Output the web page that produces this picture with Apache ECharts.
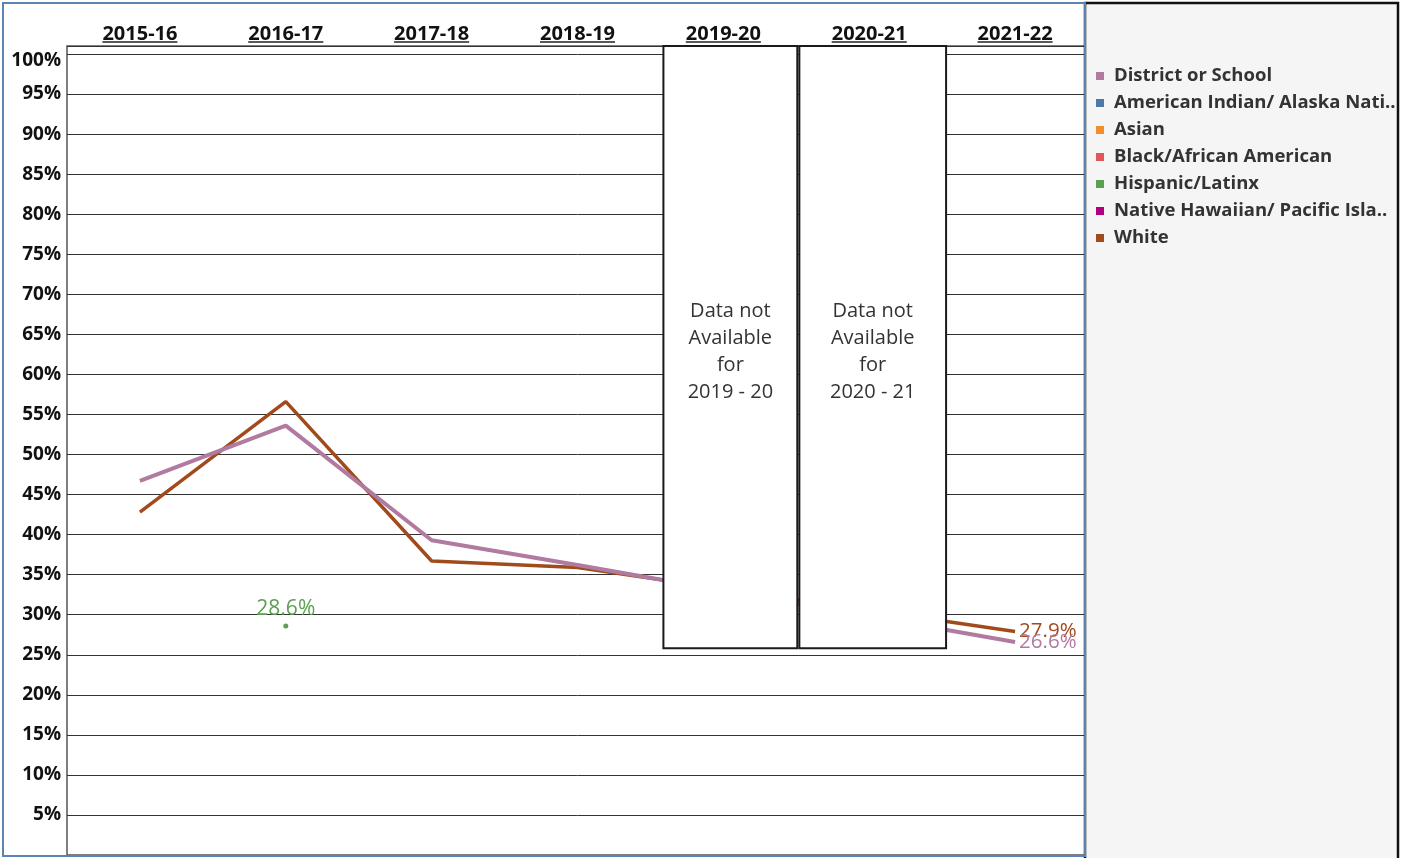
<!DOCTYPE html>
<html>
<head>
<meta charset="utf-8">
<script src="https://cdn.jsdelivr.net/npm/echarts@6/dist/echarts.min.js"></script>
<style>
html,body{margin:0;padding:0;background:#fff;}
#chart{width:1409px;height:858px;}
</style>
</head>
<body>
<div id="chart"></div>
<script>
// ---- data ----
const categories = ['2015-16','2016-17','2017-18','2018-19','2019-20','2020-21','2021-22'];
const districtValues = [46.7, 53.6, 39.3, 36.2, null, null, 26.6];
const whiteValues    = [42.8, 56.6, 36.7, 35.9, null, null, 27.9];
const hispanicValues = [null, 28.6, null, null, null, null, null];
const legendNames = ['District or School','American Indian/ Alaska Nati..','Asian','Black/African American','Hispanic/Latinx','Native Hawaiian/ Pacific Isla..','White'];
const legendColors = ['#b07aa1','#4e79a7','#f28e2b','#e15759','#59a14f','#b1007f','#a14b1d'];
const gapYears = ['2019-20','2020-21'];
const gapNotes = ['Data not\nAvailable\nfor\n2019 - 20','Data not\nAvailable\nfor\n2020 - 21'];
const gapBoxBottom = 25.8;

const FONT = 'Open Sans';
const chart = echarts.init(document.getElementById('chart'));

function withLastLabel(arr) {
  let lastIdx = -1;
  arr.forEach((v, i) => { if (v !== null) lastIdx = i; });
  return arr.map((v, i) => {
    if (v === null) return null;
    return i === lastIdx ? {value: v, label: {show: true}} : v;
  });
}

const emptySeries = (name, color) => ({
  name, type: 'line', data: [], itemStyle: {color}, lineStyle: {color}
});

const boxFrac = [[-0.411, 0.507], [-0.479, 0.527]];

const option = {
  animation: false,
  backgroundColor: '#fff',
  textStyle: {fontFamily: FONT},
  grid: {left: 67, top: 46, right: 321, bottom: 3, show: true, borderColor: '#555', borderWidth: 1.5, backgroundColor: '#fff'},
  legend: {
    orient: 'vertical', left: 1096, top: 66, padding: 0,
    icon: 'rect', itemWidth: 8, itemHeight: 8, itemGap: 7,
    data: legendNames,
    textStyle: {fontFamily: FONT, fontWeight: 'bold', fontSize: 18.5, color: '#333', lineHeight: 20, padding: [0,0,0,5]},
    selectedMode: false
  },
  xAxis: {
    type: 'category', position: 'top', data: categories, boundaryGap: true,
    axisLine: {show: false}, axisTick: {show: false}, splitLine: {show: false},
    axisLabel: {color: '#111', fontFamily: FONT, fontWeight: 'bold', fontSize: 20, margin: 2, interval: 0}
  },
  yAxis: {
    type: 'value', min: 0, max: 101, interval: 5,
    axisLine: {show: false}, axisTick: {show: false},
    splitLine: {show: true, lineStyle: {color: '#333', width: 1}},
    axisLabel: {
      color: '#111', fontFamily: FONT, fontWeight: 'bold', fontSize: 19, margin: 6,
      formatter: v => (v > 0 && v <= 100 && v % 5 === 0) ? (v === 100 ? '{t|100%}' : v + '%') : '',
      rich: {t: {color: '#111', fontFamily: FONT, fontWeight: 'bold', fontSize: 19, padding: [14,0,0,0]}}
    }
  },
  series: [
    emptySeries(legendNames[1], legendColors[1]),
    emptySeries(legendNames[2], legendColors[2]),
    emptySeries(legendNames[3], legendColors[3]),
    emptySeries(legendNames[5], legendColors[5]),
    {
      name: legendNames[6], type: 'line', data: withLastLabel(whiteValues), connectNulls: true,
      showSymbol: true, symbol: 'circle', symbolSize: 0.1, z: 2,
      itemStyle: {color: legendColors[6]}, lineStyle: {color: legendColors[6], width: 3.5},
      label: {show: false, position: 'right', distance: 4, color: legendColors[6], fontFamily: FONT, fontSize: 20.5, formatter: p => p.value.toFixed(1) + '%'}
    },
    {
      name: legendNames[0], type: 'line', data: withLastLabel(districtValues), connectNulls: true,
      showSymbol: true, symbol: 'circle', symbolSize: 0.1, z: 3,
      itemStyle: {color: legendColors[0]}, lineStyle: {color: legendColors[0], width: 4},
      label: {show: false, position: 'right', distance: 4, color: legendColors[0], fontFamily: FONT, fontSize: 20.5, formatter: p => p.value.toFixed(1) + '%'}
    },
    {
      name: legendNames[4], type: 'line', data: hispanicValues, symbol: 'circle', symbolSize: 5, showSymbol: true,
      itemStyle: {color: legendColors[4]}, lineStyle: {color: legendColors[4], width: 3}, z: 4,
      label: {show: true, position: 'top', distance: 4, color: legendColors[4], fontFamily: FONT, fontSize: 21, formatter: p => p.value == null ? '' : p.value.toFixed(1) + '%'}
    },
    {
      type: 'custom', z: 10, silent: true,
      data: gapYears.map((y, i) => [y, i]),
      encode: {x: 0},
      renderItem: function (params, api) {
        const idx = api.value(1);
        const c = api.coord([api.value(0), 0]);
        const bw = api.size([1, 0])[0];
        const cs = params.coordSys;
        const x0 = c[0] + boxFrac[idx][0] * bw;
        const x1 = c[0] + boxFrac[idx][1] * bw;
        const yb = api.coord([api.value(0), gapBoxBottom])[1];
        const yt = cs.y;
        return {
          type: 'group',
          children: [
            {type: 'rect', shape: {x: x0, y: yt, width: x1 - x0, height: yb - yt},
             style: {fill: '#fff', stroke: '#1a1a1a', lineWidth: 2}},
            {type: 'text', style: {text: gapNotes[idx], x: (x0 + x1) / 2, y: (yt + yb) / 2 + 5,
              align: 'center', verticalAlign: 'middle', fill: '#333', font: '20px "' + FONT + '"', lineHeight: 27}}
          ]
        };
      }
    }
  ]
};

chart.setOption(option);

// underline for the top category labels, and panels
const ctx = document.createElement('canvas').getContext('2d');
ctx.font = 'bold 20px "' + FONT + '"';
const underlines = categories.map(cat => {
  const x = chart.convertToPixel({xAxisIndex: 0}, cat);
  const w = ctx.measureText(cat).width;
  return {type: 'line', z: 5, shape: {x1: x - w / 2, y1: 42, x2: x + w / 2, y2: 42}, style: {stroke: '#222', lineWidth: 1.5}};
});

chart.setOption({
  graphic: [
    {type: 'rect', z: 3, shape: {x: 1085, y: 3, width: 313, height: 870}, style: {fill: '#f5f5f5', stroke: '#111', lineWidth: 2.5}},
    {type: 'rect', z: 3, shape: {x: 3, y: 3, width: 1082, height: 853}, style: {fill: 'none', stroke: '#5b84b3', lineWidth: 2}},
    ...underlines
  ]
});
</script>
</body>
</html>
